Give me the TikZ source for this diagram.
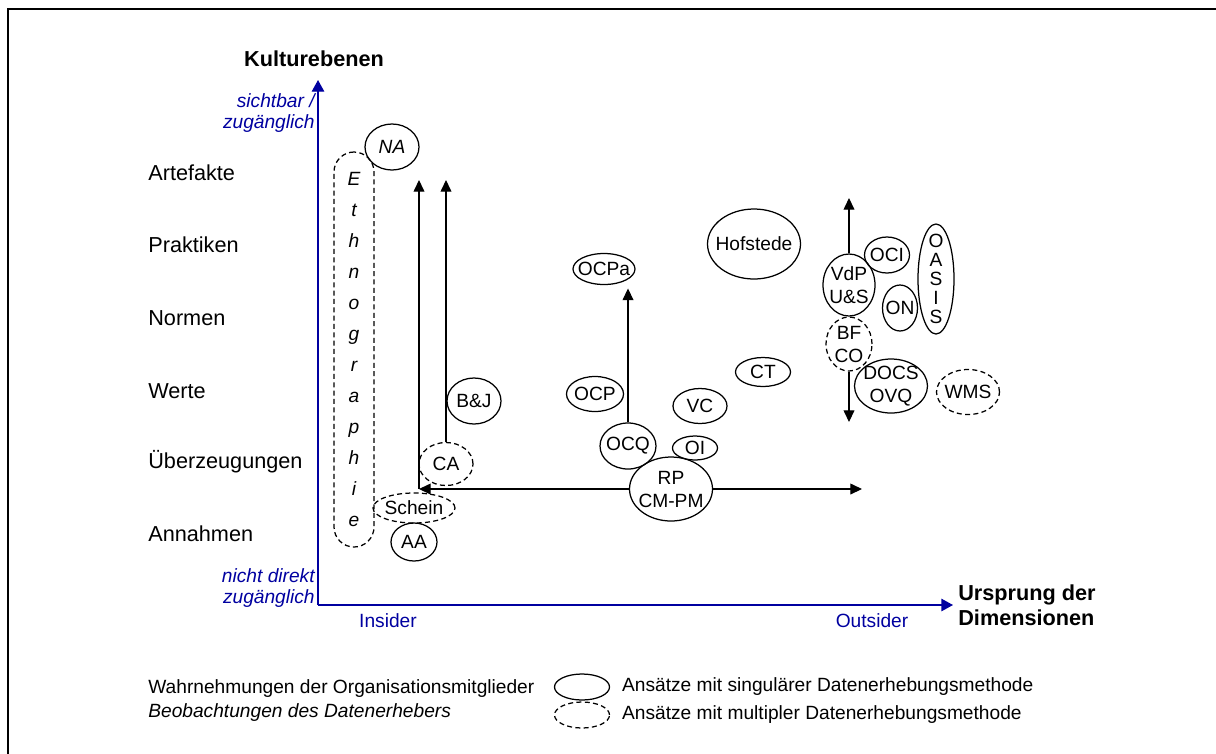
\documentclass[tikz,border=0pt]{standalone}
\usepackage{fontspec}
\setmainfont{Liberation Sans}
\usetikzlibrary{positioning,arrows.meta,shapes.geometric}
\definecolor{axBlue}{RGB}{0,0,160}
\tikzset{
  sing/.style={ellipse, draw, line width=0.75pt, inner sep=0pt},
  mult/.style={sing, dash pattern=on 3pt off 2pt},
  sz/.style 2 args={minimum width=#1*0.6pt, minimum height=#2*0.6pt},
  ansl/.style={font=\fontsize{11.5}{13.8}\selectfont, align=center, inner sep=0pt},
  ethbox/.style={rectangle, rounded corners=12pt, draw, line width=0.75pt,
                 dash pattern=on 3pt off 2pt, minimum width=24pt, minimum height=237pt,
                 align=center, font=\fontsize{11.5}{18.6}\selectfont\itshape},
  flow/.style={-{Triangle[length=7pt,width=6.5pt]}, line width=0.65pt},
  axis/.style={-{Triangle[length=7pt,width=7.5pt]}, draw=axBlue, line width=0.8pt},
  level/.style={anchor=west, font=\fontsize{13}{15}\selectfont, inner sep=0pt},
  axlbl/.style={text=axBlue, font=\fontsize{11.5}{12.6}\selectfont\itshape, align=right, inner sep=0pt},
  axend/.style={text=axBlue, font=\fontsize{11.5}{14}\selectfont, inner sep=0pt},
  title/.style={font=\fontsize{13}{15}\selectfont\bfseries, align=left, inner sep=0pt},
  leg/.style={anchor=west, font=\fontsize{11.5}{14}\selectfont, inner sep=0pt},
}
\newcommand{\Ans}[5][sing]{%
  \node[#1, sz=#4, label={[ansl]center:#5}] (#2) at (#3) {};}

\begin{document}
\begin{tikzpicture}[x=0.6pt, y=-0.6pt]
  \useasboundingbox (0,0) rectangle (1216,753);
  \draw[line width=1.3pt] (8,770) -- (8,9) -- (1230,9);

  %====================== AXES ======================
  \coordinate (o) at (318,605);
  \coordinate (ytop) at (318,80);
  \coordinate (xend) at (953,605);
  \draw[axis] (o) -- (ytop);
  \draw[axis] (o) -- (xend);

  \node[title, anchor=base] (kult) at (314,66) {Kulturebenen};
  \node[title, anchor=west] (urs) at (958,605) {Ursprung der\\Dimensionen};
  \node[axlbl, anchor=east] (sicht) at (315,113) {sichtbar /\\zugänglich};
  \node[axlbl, anchor=east] (nicht) at (315,588) {nicht direkt\\zugänglich};
  \node[axend] (ins) at (388,621) {Insider};
  \node[axend] (outs) at (872,621) {Outsider};

  %====================== LEVELS ======================
  \node[level] (art) at (148,173) {Artefakte};
  \node[level] (prak) at (148,245) {Praktiken};
  \node[level] (norm) at (148,318) {Normen};
  \node[level] (wert) at (148,391) {Werte};
  \node[level] (ueber) at (148,462) {Überzeugungen};
  \node[level] (annah) at (148,534) {Annahmen};

  %====================== APPROACHES ======================
  \node[ethbox] (ethno) at (354,349.5) {E\\t\\h\\n\\o\\g\\r\\a\\p\\h\\i\\e};
  \Ans{na}{392,147}{{54}{46}}{\itshape NA}
  \Ans[mult]{ca}{446,464}{{54}{43}}{CA}
  \Ans[mult]{schein}{414,508}{{82}{30}}{Schein}
  \Ans{aa}{414,542}{{46}{38}}{AA}
  \Ans{bj}{474,401}{{54}{46}}{B\&J}
  \Ans{ocp}{595,394}{{57}{35}}{OCP}
  \Ans{ocpa}{604,269}{{62}{31}}{OCPa}
  \Ans{ocq}{628,446}{{56}{46}}{OCQ}
  \Ans{oi}{695,448}{{45}{24}}{OI}
  \Ans{vc}{700,406}{{54}{35}}{VC}
  \Ans{ct}{763,372}{{55}{29}}{CT}
  \Ans{rp}{671,489}{{83}{64}}{RP\\CM-PM}
  \Ans{hof}{754,244}{{93}{70}}{Hofstede}
  \Ans{vdp}{849,285}{{52}{62}}{VdP\\U\&S}
  \Ans[mult]{bf}{849,344}{{46}{54}}{BF\\CO}
  \Ans{docs}{891,386}{{73}{54}}{DOCS\\OVQ}
  \Ans[mult]{wms}{968,392}{{63}{45}}{WMS}
  \Ans{oci}{887,255}{{45}{36}}{OCI}
  \Ans{on}{900,308}{{35}{46}}{ON}
  \node[sing, sz={36}{110}, label={[ansl, font=\fontsize{11.5}{11.4}\selectfont]center:O\\A\\S\\I\\S}] (oasis) at (936,279) {};

  %====================== ARROWS ======================
  \coordinate (corner) at (419,489);
  \coordinate (arttip) at (419,180);
  \coordinate (rend) at (862,489);
  \coordinate (vtop) at (849,198);
  \coordinate (vbot) at (849,422);
  \draw[flow] (rp) -- (corner);
  \draw[flow] (corner) -- (arttip);
  \draw[flow] (rp) -- (rend);
  \draw[flow] (ca) -- (ca |- arttip);
  \draw[flow, shorten >=2pt] (ocq) -- (ocq |- ocpa.south);
  \draw[flow] (vdp) -- (vtop);
  \draw[flow] (bf) -- (vbot);

  %====================== LEGEND ======================
  \node[leg] (wahr) at (148,689) {Wahrnehmungen der Organisationsmitglieder};
  \node[leg, font=\fontsize{11.5}{14}\selectfont\itshape] (beob) at (148,713) {Beobachtungen des Datenerhebers};
  \node[sing, sz={55}{26}] (legs) at (582,687) {};
  \node[mult, sz={55}{26}] (legm) at (582,715) {};
  \node[leg, right=7pt of legs] (legst) {Ansätze mit singulärer Datenerhebungsmethode};
  \node[leg, right=7pt of legm] (legmt) {Ansätze mit multipler Datenerhebungsmethode};
\end{tikzpicture}
\end{document}
